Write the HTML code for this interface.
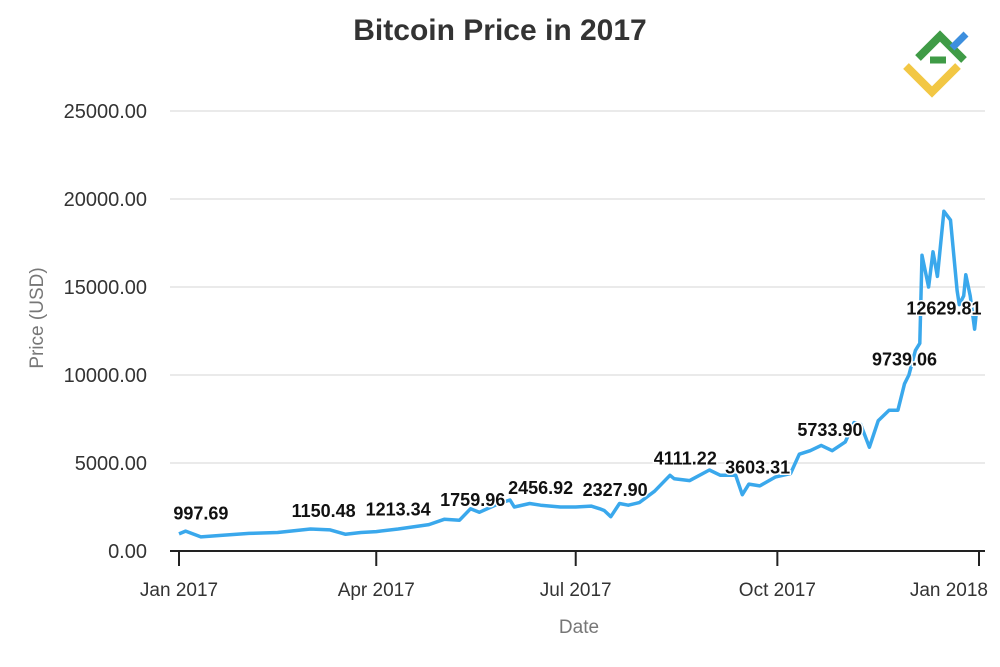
<!DOCTYPE html>
<html><head><meta charset="utf-8"><style>
body{margin:0;background:#fff;width:1000px;height:667px;overflow:hidden;font-family:"Liberation Sans",sans-serif}
svg{display:block}
</style></head><body>
<svg id="chart" width="1000" height="667">
<text x="500" y="40" text-anchor="middle" font-size="30" font-weight="bold" fill="#333">Bitcoin Price in 2017</text>
<g>
<path d="M906 66 L932 92 L958 66" fill="none" stroke="#f2c744" stroke-width="8"/>
<path d="M918 58 L940 36 L964 60" fill="none" stroke="#3f9b46" stroke-width="8"/>
<path d="M930 60 L946 60" fill="none" stroke="#3f9b46" stroke-width="7"/>
<path d="M952 48 L966 34" fill="none" stroke="#3d8fde" stroke-width="7"/>
</g>
<g id="grid"></g><g id="yt"></g><g id="xt"></g><g id="series"></g><g id="labels"></g>
<text x="579" y="633" text-anchor="middle" font-size="19" fill="#777">Date</text>
<text transform="translate(43,318) rotate(-90)" text-anchor="middle" font-size="19" fill="#777">Price (USD)</text>
</svg>
<script>
const days=[0,3,10,20,32,45,60,69,76,83,90,100,114,121,128,133,137,146,151,153,160,165,174,181,188,192,194,197,201,205,210,217,224,226,233,242,247,254,257,260,265,272,279,283,288,293,298,304,308,311,315,319,324,328,331,333,336,338,339,342,344,346,349,352,355,356,358,359,361,363,364];
const prices=[970,1130,800,900,1000,1050,1250,1200,950,1050,1100,1250,1500,1800,1750,2400,2200,2700,2900,2500,2700,2600,2500,2500,2550,2400,2300,1950,2700,2600,2750,3400,4300,4100,4000,4600,4300,4300,3200,3800,3700,4200,4400,5500,5700,6000,5700,6200,7300,7200,5900,7400,8000,8000,9500,10000,11400,11800,16800,15000,17000,15600,19300,18800,14800,14000,14500,15700,14500,12600,13800];
const yTicks=[0,5000,10000,15000,20000,25000];
const xTickDays=[0,90,181,273,365];
const xTickLabels=["Jan 2017","Apr 2017","Jul 2017","Oct 2017","Jan 2018"];
const labelDays=[10,66,100,134,165,199,231,264,297,331,349];
const labelValues=[997.69,1150.48,1213.34,1759.96,2456.92,2327.90,4111.22,3603.31,5733.90,9739.06,12629.81];
const X=d=>179+d*800/365;
const Y=v=>551-v*440/25000;
const NS="http://www.w3.org/2000/svg";
function mk(tag,parent,attrs){const e=document.createElementNS(NS,tag);for(const k in attrs)e.setAttribute(k,attrs[k]);document.getElementById(parent).appendChild(e);return e;}
yTicks.forEach(v=>{
 const l=mk('line','grid',{x1:170,x2:985,y1:Y(v),y2:Y(v),stroke:v===0?'#222':'#e3e3e3','stroke-width':v===0?2:1.5});
 
 
 const t=mk('text','yt',{x:147,y:Y(v)+7,'text-anchor':'end','font-size':20,fill:'#333'});
 t.textContent=v.toFixed(2);
 
 
});
xTickDays.forEach((d,i)=>{
 const l=mk('line','xt',{x1:X(d),x2:X(d),y1:551,y2:566,stroke:'#222','stroke-width':2});
 
 
 const last=i===xTickDays.length-1;
 const t=mk('text','xt',{x:last?988:X(d),y:596,'text-anchor':last?'end':'middle','font-size':19,fill:'#333'});
 t.textContent=xTickLabels[i];
 
 
});
const p=mk('path','series',{d:days.map((d,i)=>(i?'L':'M')+X(d).toFixed(1)+' '+Y(prices[i]).toFixed(1)).join(' '),fill:'none',stroke:'#3aa8ec','stroke-width':3.5,'stroke-linejoin':'round'});


labelDays.forEach((d,i)=>{
 const t=mk('text','labels',{x:X(d),y:Y(labelValues[i])-14,'text-anchor':'middle','font-size':18,'font-weight':'bold',fill:'#111',stroke:'#fff','stroke-width':3,'paint-order':'stroke'});
 t.textContent=labelValues[i].toFixed(2);
 
 
});
</script>
</body></html>
